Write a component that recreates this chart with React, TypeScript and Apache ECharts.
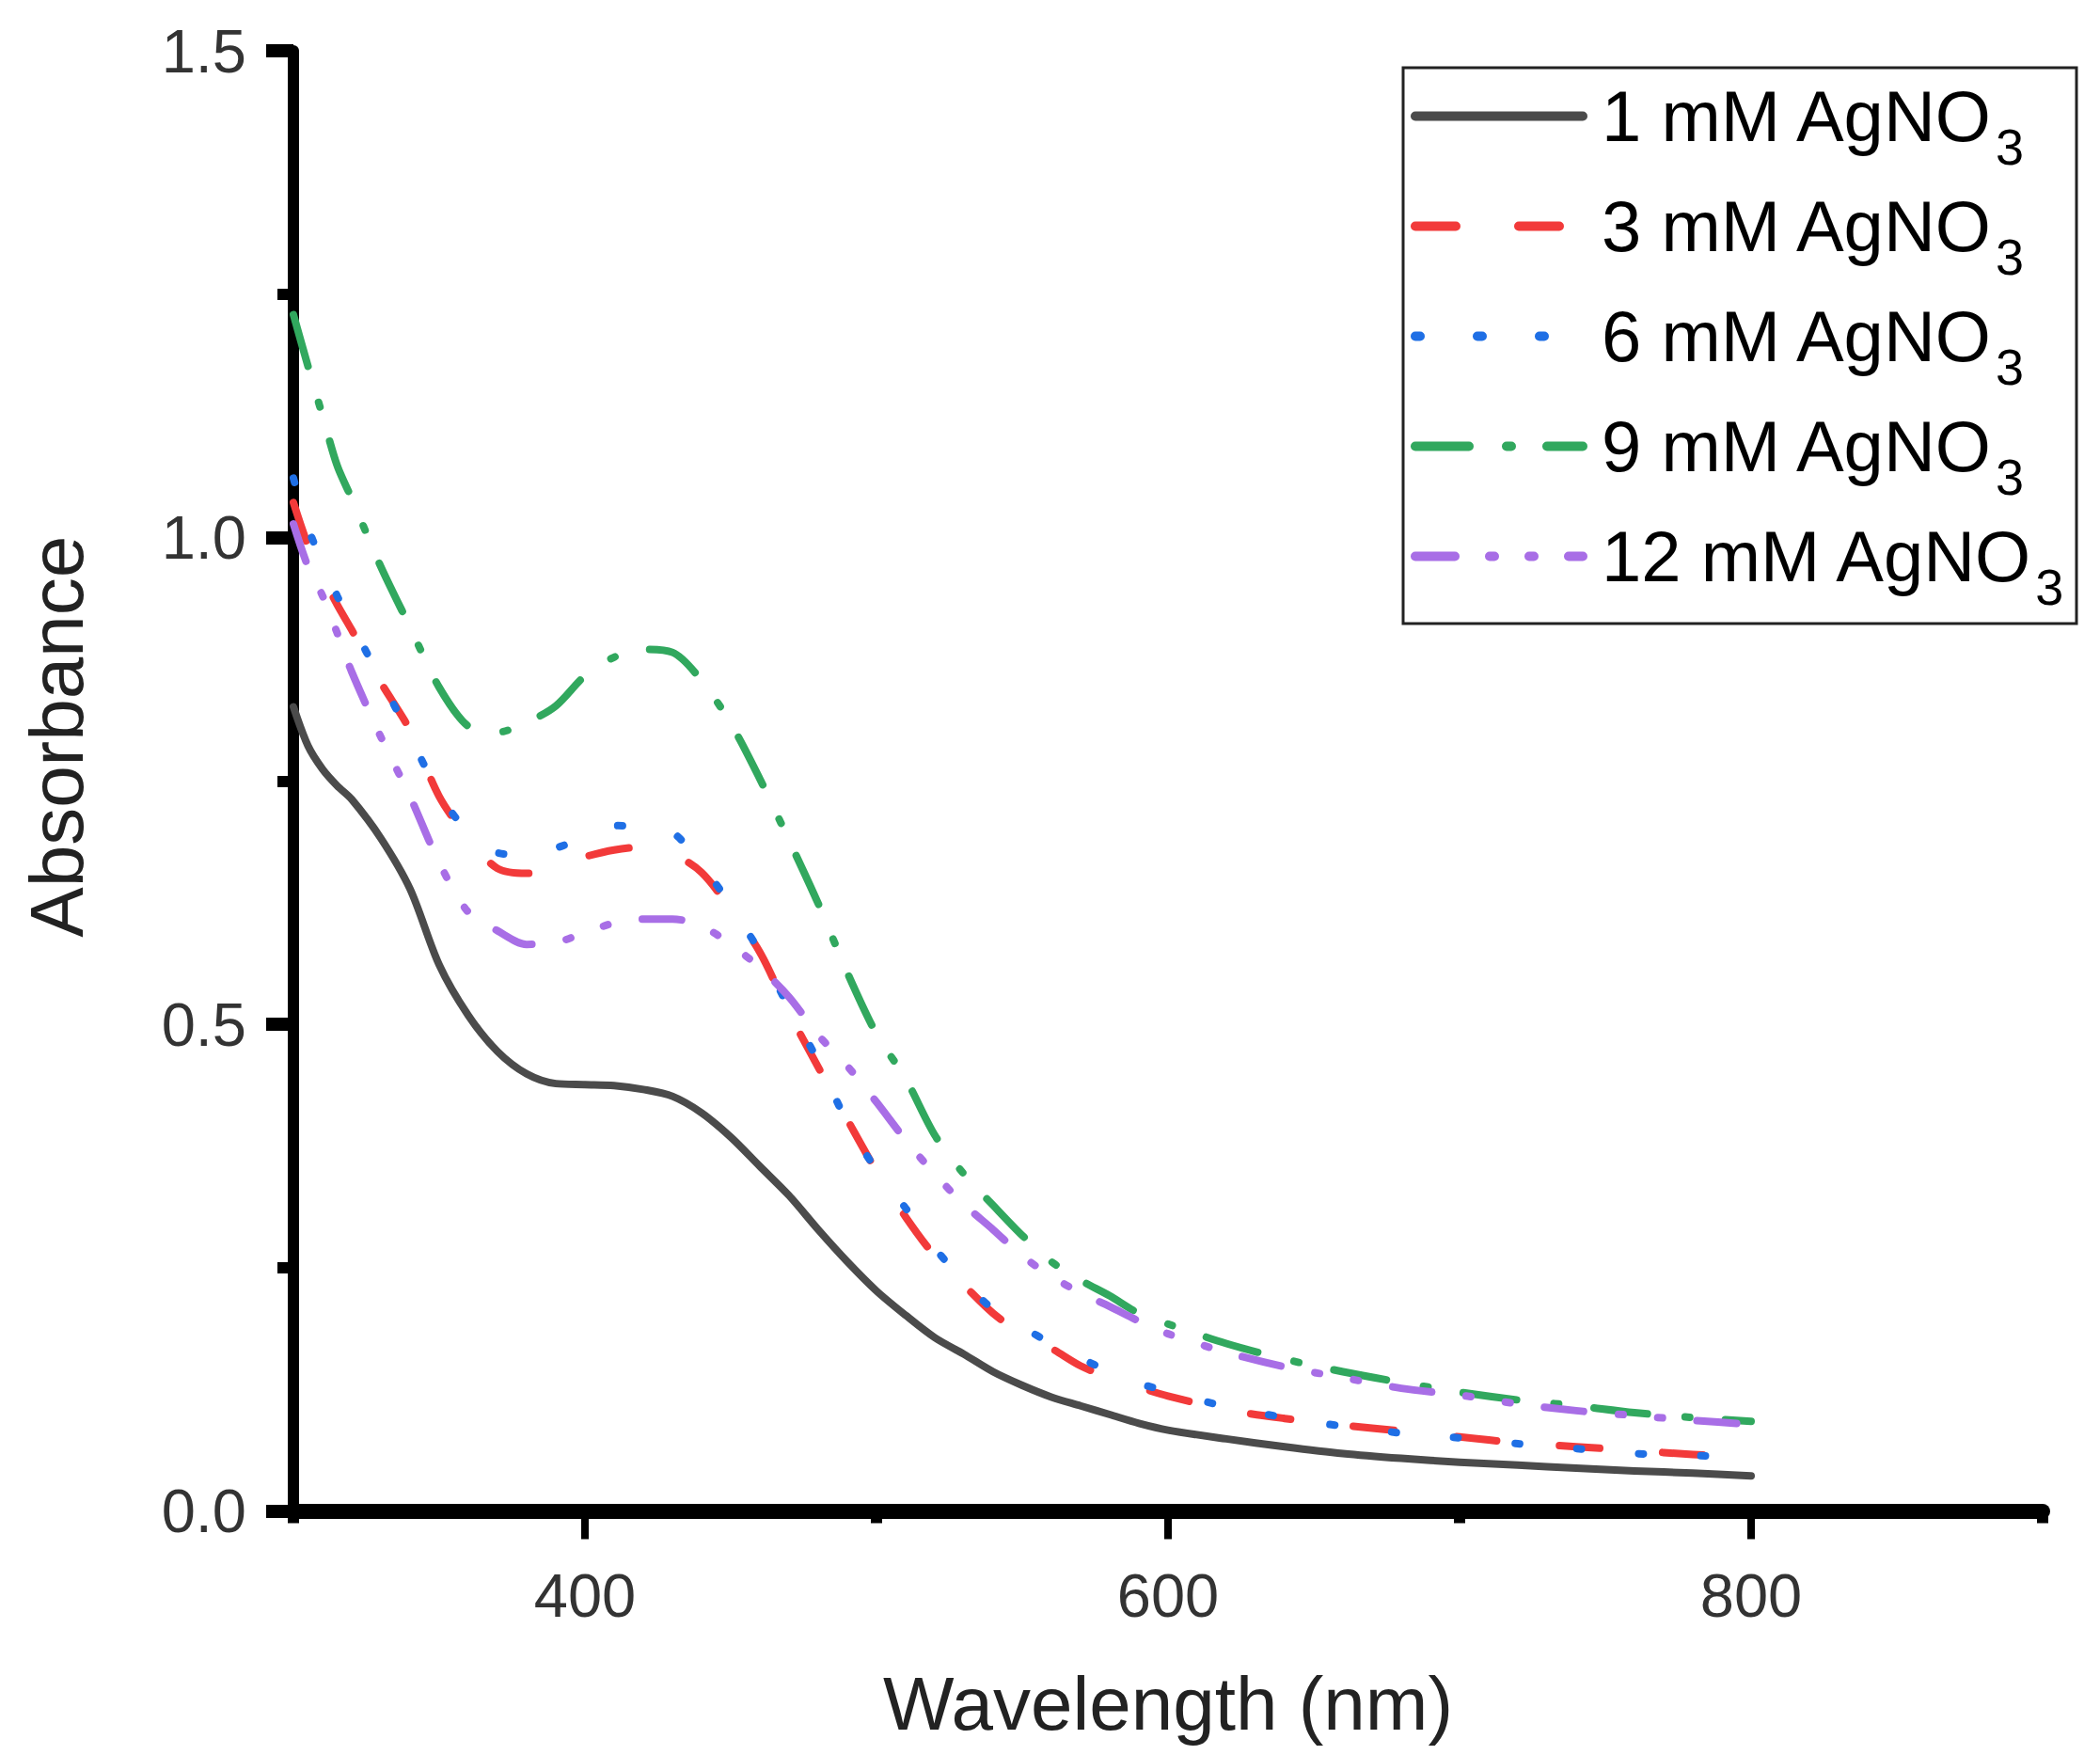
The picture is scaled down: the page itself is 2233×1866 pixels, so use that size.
import React, { useEffect, useRef } from "react";
import * as echarts from "echarts";

const wavelengths = [300, 305, 310, 315, 320, 330, 340, 350, 360, 370, 380, 390, 400, 410, 420, 430, 440, 450, 460, 470, 480, 490, 500, 510, 520, 530, 540, 550, 560, 570, 580, 590, 600, 620, 640, 660, 680, 700, 720, 740, 760, 780, 800];

const abs1mM = [0.826, 0.786, 0.762, 0.745, 0.731, 0.691, 0.639, 0.561, 0.509, 0.472, 0.449, 0.439, 0.438, 0.437, 0.433, 0.426, 0.409, 0.384, 0.354, 0.324, 0.289, 0.256, 0.226, 0.201, 0.178, 0.161, 0.143, 0.129, 0.117, 0.108, 0.099, 0.090, 0.083, 0.074, 0.066, 0.059, 0.054, 0.050, 0.047, 0.044, 0.041, 0.039, 0.036];
const abs3mM = [1.036, 0.992, 0.960, 0.931, 0.905, 0.851, 0.802, 0.734, 0.691, 0.660, 0.655, 0.662, 0.672, 0.679, 0.682, 0.675, 0.656, 0.618, 0.574, 0.512, 0.456, 0.402, 0.349, 0.302, 0.262, 0.232, 0.203, 0.182, 0.167, 0.149, 0.137, 0.127, 0.118, 0.104, 0.095, 0.088, 0.082, 0.076, 0.070, 0.066, 0.062, 0.058, 0.055];
const abs6mM = [1.061, 1.010, 0.974, 0.940, 0.911, 0.854, 0.796, 0.737, 0.697, 0.676, 0.674, 0.681, 0.692, 0.704, 0.703, 0.697, 0.664, 0.622, 0.574, 0.517, 0.462, 0.399, 0.350, 0.311, 0.270, 0.236, 0.207, 0.189, 0.172, 0.157, 0.143, 0.131, 0.123, 0.107, 0.096, 0.087, 0.080, 0.075, 0.069, 0.064, 0.059, 0.057, 0.055];
const abs9mM = [1.229, 1.176, 1.125, 1.074, 1.040, 0.970, 0.908, 0.846, 0.806, 0.800, 0.810, 0.827, 0.858, 0.877, 0.885, 0.882, 0.853, 0.809, 0.752, 0.689, 0.624, 0.553, 0.490, 0.444, 0.386, 0.346, 0.314, 0.283, 0.256, 0.237, 0.221, 0.203, 0.192, 0.172, 0.156, 0.143, 0.132, 0.122, 0.114, 0.108, 0.101, 0.096, 0.092];
const abs12mM = [1.014, 0.970, 0.940, 0.902, 0.862, 0.795, 0.734, 0.666, 0.615, 0.596, 0.582, 0.584, 0.594, 0.604, 0.608, 0.608, 0.601, 0.582, 0.558, 0.528, 0.489, 0.457, 0.420, 0.381, 0.346, 0.315, 0.289, 0.262, 0.241, 0.224, 0.210, 0.195, 0.182, 0.163, 0.148, 0.137, 0.126, 0.119, 0.110, 0.103, 0.098, 0.093, 0.089];

const seriesNames = ["1 mM AgNO3", "3 mM AgNO3", "6 mM AgNO3", "9 mM AgNO3", "12 mM AgNO3"];
const seriesValues = [abs1mM, abs3mM, abs6mM, abs9mM, abs12mM];
const seriesColors = ["#4b4b4b", "#f23a3a", "#1f6fe5", "#31a85e", "#a86ee6"];
const seriesDash: any[] = ["solid", [43, 67], [5, 61], [57, 40, 5, 38], [42, 37, 5, 37, 5, 37]];

const xMajorTicks = [400, 600, 800];
const xMinorTicks = [300, 500, 700, 900];

const FONT = "'Liberation Sans', Arial, sans-serif";

export default function App() {
  const ref = useRef<HTMLDivElement>(null);

  useEffect(() => {
    if (!ref.current) return;
    const chart = echarts.init(ref.current, undefined, { renderer: "svg" });

    const series = seriesNames.map((name, i) => ({
      name,
      type: "line",
      xAxisIndex: 0,
      yAxisIndex: 0,
      symbol: "none",
      showSymbol: false,
      smooth: 0.3,
      data: wavelengths.map((w, j) => [w, seriesValues[i][j]]),
      lineStyle: { color: seriesColors[i], width: 8, type: seriesDash[i], cap: "round", join: "round" },
      itemStyle: { color: seriesColors[i] },
    }));

    const option: any = {
      animation: false,
      backgroundColor: "#ffffff",
      grid: { left: 312, right: 61, top: 54, bottom: 259.5, containLabel: false },
      xAxis: [
        {
          type: "value",
          min: 300,
          max: 900,
          interval: 100,
          position: "bottom",
          axisLine: { show: true, onZero: false, lineStyle: { color: "#000", width: 16 } },
          axisTick: { show: true, inside: false, length: 30, customValues: xMajorTicks, lineStyle: { color: "#000", width: 8 } },
          axisLabel: { show: true, customValues: xMajorTicks, margin: 57, fontSize: 65, color: "#333", fontFamily: FONT },
          splitLine: { show: false },
          name: "Wavelength (nm)",
          nameLocation: "middle",
          nameGap: 165,
          nameTextStyle: { fontSize: 80, color: "#222", fontFamily: FONT },
        },
        {
          type: "value",
          min: 300,
          max: 900,
          interval: 100,
          position: "bottom",
          axisLine: { show: false, onZero: false },
          axisTick: { show: true, inside: false, length: 13, customValues: xMinorTicks, lineStyle: { color: "#000", width: 12 } },
          axisLabel: { show: false },
          splitLine: { show: false },
        },
      ],
      yAxis: {
        type: "value",
        min: 0,
        max: 1.5,
        interval: 0.5,
        axisLine: { show: true, onZero: false, lineStyle: { color: "#000", width: 12 } },
        axisTick: { show: true, inside: false, length: 29, lineStyle: { color: "#000", width: 14 } },
        minorTick: { show: true, splitNumber: 2, length: 17, lineStyle: { color: "#000", width: 12 } },
        axisLabel: { margin: 50, fontSize: 65, color: "#333", fontFamily: FONT, formatter: (v: number) => v.toFixed(1) },
        splitLine: { show: false },
        minorSplitLine: { show: false },
        name: "Absorbance",
        nameLocation: "middle",
        nameGap: 212,
        nameTextStyle: { fontSize: 80, color: "#222", fontFamily: FONT, padding: [0, 0, 0, 94] },
      },
      legend: {
        orient: "vertical",
        left: 1500,
        top: 64,
        padding: 0,
        itemGap: -2,
        itemWidth: 178,
        itemHeight: 1,
        data: seriesNames,
        itemStyle: { opacity: 0 },
        lineStyle: { width: 10, cap: "round" },
        formatter: (name: string) => `{a|${name.replace("AgNO3", "AgNO")}}{s|3}`,
        textStyle: {
          padding: [0, 0, 0, 15],
          rich: {
            a: { fontSize: 76, lineHeight: 80, color: "#000", fontFamily: FONT },
            s: { fontSize: 54, lineHeight: 54, padding: [65, 0, 0, 1], color: "#000", fontFamily: FONT },
          },
        },
      },
      graphic: [
        {
          type: "rect",
          shape: { x: 1492, y: 72, width: 716, height: 591 },
          style: { fill: "none", stroke: "#222", lineWidth: 3 },
          silent: true,
        },
      ],
      series,
    };

    chart.setOption(option);
    return () => chart.dispose();
  }, []);

  return (
    <div
      ref={ref}
      style={{ position: "absolute", left: 0, top: 0, width: 2233, height: 1866, background: "#fff" }}
    />
  );
}
